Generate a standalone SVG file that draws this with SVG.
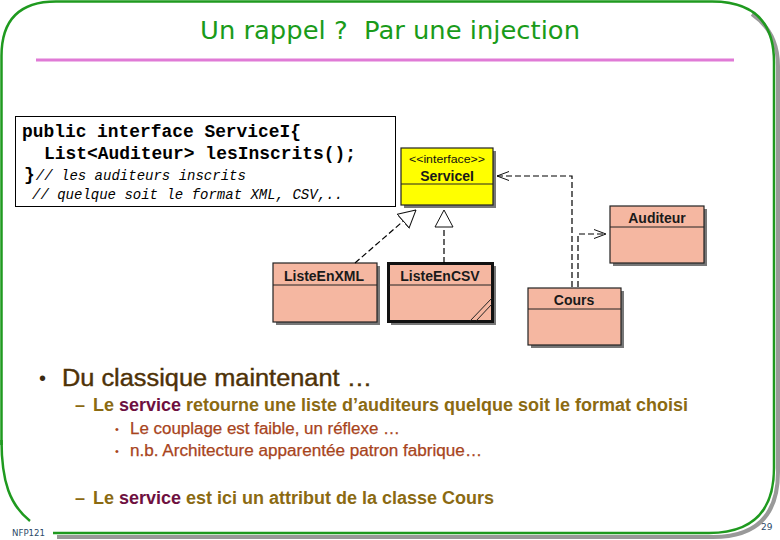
<svg xmlns="http://www.w3.org/2000/svg" width="780" height="540" viewBox="0 0 780 540">
<style>
.frame{fill:none;stroke:#1f9a1f;stroke-width:2.5}
.shadow{fill:none;stroke:#999;stroke-width:4}
.cls{fill:#f5b7a1;stroke:#222;stroke-width:1.2}
.sh{fill:#777}
.div{stroke:#222;stroke-width:1}
.cname{font-family:"Liberation Sans",Arial,sans-serif;font-weight:bold;font-size:14px;fill:#1a1a1a;text-anchor:middle}
.code{font-family:"Liberation Mono","Courier New",monospace;font-weight:bold;font-size:18px;fill:#000}
.cmt{font-family:"Liberation Mono","Courier New",monospace;font-style:italic;font-size:14px;fill:#000}
.dash{fill:none;stroke:#000;stroke-width:1.2;stroke-dasharray:6,3}
.b1{font-family:"Liberation Sans",Arial,sans-serif;font-size:23px;fill:#4e3207;stroke:#4e3207;stroke-width:0.4}
.b2{font-family:"Liberation Sans",Arial,sans-serif;font-weight:bold;font-size:18px;fill:#8b6a12}
.svc{fill:#6e1040}
.b3{font-family:"Liberation Sans",Arial,sans-serif;font-size:16px;fill:#a8441c;stroke:#a8441c;stroke-width:0.25}
.foot{font-family:"DejaVu Sans",sans-serif;font-size:9px;fill:#2c4a68}
</style>
<defs>
<marker id="tri" viewBox="0 0 18 20" refX="17.5" refY="10" markerWidth="18" markerHeight="20" orient="auto" markerUnits="userSpaceOnUse">
<path d="M0.5,1 L17.5,10 L0.5,19 Z" fill="#fff" stroke="#111" stroke-width="1" stroke-dasharray="none"/>
</marker>
<marker id="open" viewBox="0 0 14 10" refX="13" refY="5" markerWidth="14" markerHeight="10" orient="auto" markerUnits="userSpaceOnUse">
<path d="M1,0.5 L13,5 L1,9.5" fill="none" stroke="#111" stroke-width="1" stroke-dasharray="none"/>
</marker>
</defs>
<rect width="780" height="540" fill="#fff"/>
<!-- frame -->
<path class="shadow" d="M752,14 Q778,32 778,66 L778,472 Q778,537 713,537 L57,537"/>
<path class="frame" d="M1.5,445 L1.5,56 Q1.5,1.5 56,1.5 L712,1.5 Q774,1.5 774,62 L774,468 Q774,533 709,533 L53,533"/>
<path class="frame" d="M1.5,440 C1.5,482 10,505 30,521"/>
<!-- title -->
<text x="390" y="39" font-family="DejaVu Sans,sans-serif" font-size="25" fill="#1a9b1a" text-anchor="middle" textLength="380" lengthAdjust="spacingAndGlyphs">Un rappel ?&#160; Par une injection</text>
<line x1="36" y1="60" x2="734" y2="60" stroke="#e07ad6" stroke-width="3"/>

<!-- code box -->
<g id="code">
<rect x="15.5" y="116.5" width="380" height="90" fill="#fff" stroke="#000" stroke-width="1"/>
<text class="code" x="22" y="137" textLength="279" lengthAdjust="spacingAndGlyphs">public interface ServiceI{</text>
<text class="code" x="44" y="159" textLength="312" lengthAdjust="spacingAndGlyphs">List&lt;Auditeur&gt; lesInscrits();</text>
<text x="24" y="180"><tspan class="code">}</tspan><tspan class="cmt" dx="1">// les auditeurs inscrits</tspan></text>
<text class="cmt" x="32" y="199">// quelque soit le format XML, CSV,..</text>
</g>

<!-- UML nodes -->
<g id="ServiceI">
<rect class="sh" x="404" y="151" width="92" height="57"/>
<rect x="401" y="148" width="92" height="57" fill="#ffff00" stroke="#222" stroke-width="1.2"/>
<line class="div" x1="401" y1="184" x2="493" y2="184"/>
<text x="447" y="163" font-family="Liberation Sans,Arial,sans-serif" font-size="10" fill="#111" text-anchor="middle" textLength="76" lengthAdjust="spacingAndGlyphs">&lt;&lt;interface&gt;&gt;</text>
<text class="cname" x="447" y="181">ServiceI</text>
</g>
<g id="Auditeur">
<rect class="sh" x="613" y="209" width="94" height="57"/>
<rect class="cls" x="610" y="206" width="94" height="57"/>
<line class="div" x1="610" y1="227" x2="704" y2="227"/>
<text class="cname" x="657" y="223">Auditeur</text>
</g>
<g id="Cours">
<rect class="sh" x="531" y="291" width="93" height="57"/>
<rect class="cls" x="528" y="288" width="93" height="57"/>
<line class="div" x1="528" y1="309" x2="621" y2="309"/>
<text class="cname" x="574" y="305">Cours</text>
</g>
<g id="ListeEnXML">
<rect class="sh" x="276" y="266" width="104" height="59"/>
<rect class="cls" x="273" y="263" width="104" height="59"/>
<line class="div" x1="273" y1="285" x2="377" y2="285"/>
<text class="cname" x="324" y="281">ListeEnXML</text>
</g>
<g id="ListeEnCSV">
<rect class="sh" x="391" y="266" width="105" height="59"/>
<rect x="388.5" y="263.5" width="104" height="58" fill="#f5b7a1" stroke="#111" stroke-width="3"/>
<line class="div" x1="389" y1="285" x2="492" y2="285"/>
<text class="cname" x="440" y="281">ListeEnCSV</text>
<line x1="470" y1="321" x2="492" y2="298" stroke="#222" stroke-width="1"/>
<line x1="476" y1="321" x2="492" y2="304" stroke="#222" stroke-width="1"/>
</g>

<!-- connectors -->
<g id="connectors">
<path class="dash" d="M355,263 L416,210" marker-end="url(#tri)"/>
<path class="dash" d="M444,263 L444,210" marker-end="url(#tri)"/>
<path class="dash" d="M572,287 L572,176 L497,176" marker-end="url(#open)"/>
<path class="dash" d="M578,287 L578,234 L606,234" marker-end="url(#open)"/>
</g>

<!-- bullets -->
<text x="39" y="385" font-family="Liberation Sans,Arial,sans-serif" font-size="20" fill="#3a2a10">•</text>
<text class="b1" x="62" y="386" textLength="310" lengthAdjust="spacingAndGlyphs">Du classique maintenant …</text>
<text class="b2" x="75" y="411">–</text>
<text class="b2" x="93" y="411" textLength="595" lengthAdjust="spacingAndGlyphs">Le <tspan class="svc">service</tspan> retourne une liste d’auditeurs quelque soit le format choisi</text>
<text x="115" y="433" font-family="Liberation Sans,Arial,sans-serif" font-size="11" fill="#a8441c">•</text>
<text class="b3" x="130" y="434" textLength="270" lengthAdjust="spacingAndGlyphs">Le couplage est faible, un réflexe …</text>
<text x="115" y="455" font-family="Liberation Sans,Arial,sans-serif" font-size="11" fill="#a8441c">•</text>
<text class="b3" x="130" y="456" textLength="352" lengthAdjust="spacingAndGlyphs">n.b. Architecture apparentée patron fabrique…</text>
<text class="b2" x="75" y="504">–</text>
<text class="b2" x="93" y="504" textLength="401" lengthAdjust="spacingAndGlyphs">Le <tspan class="svc">service</tspan> est ici un attribut de la classe Cours</text>

<!-- footer -->
<text class="foot" x="12" y="536" textLength="33" lengthAdjust="spacingAndGlyphs">NFP121</text>
<text class="foot" x="761" y="530">29</text>
</svg>
